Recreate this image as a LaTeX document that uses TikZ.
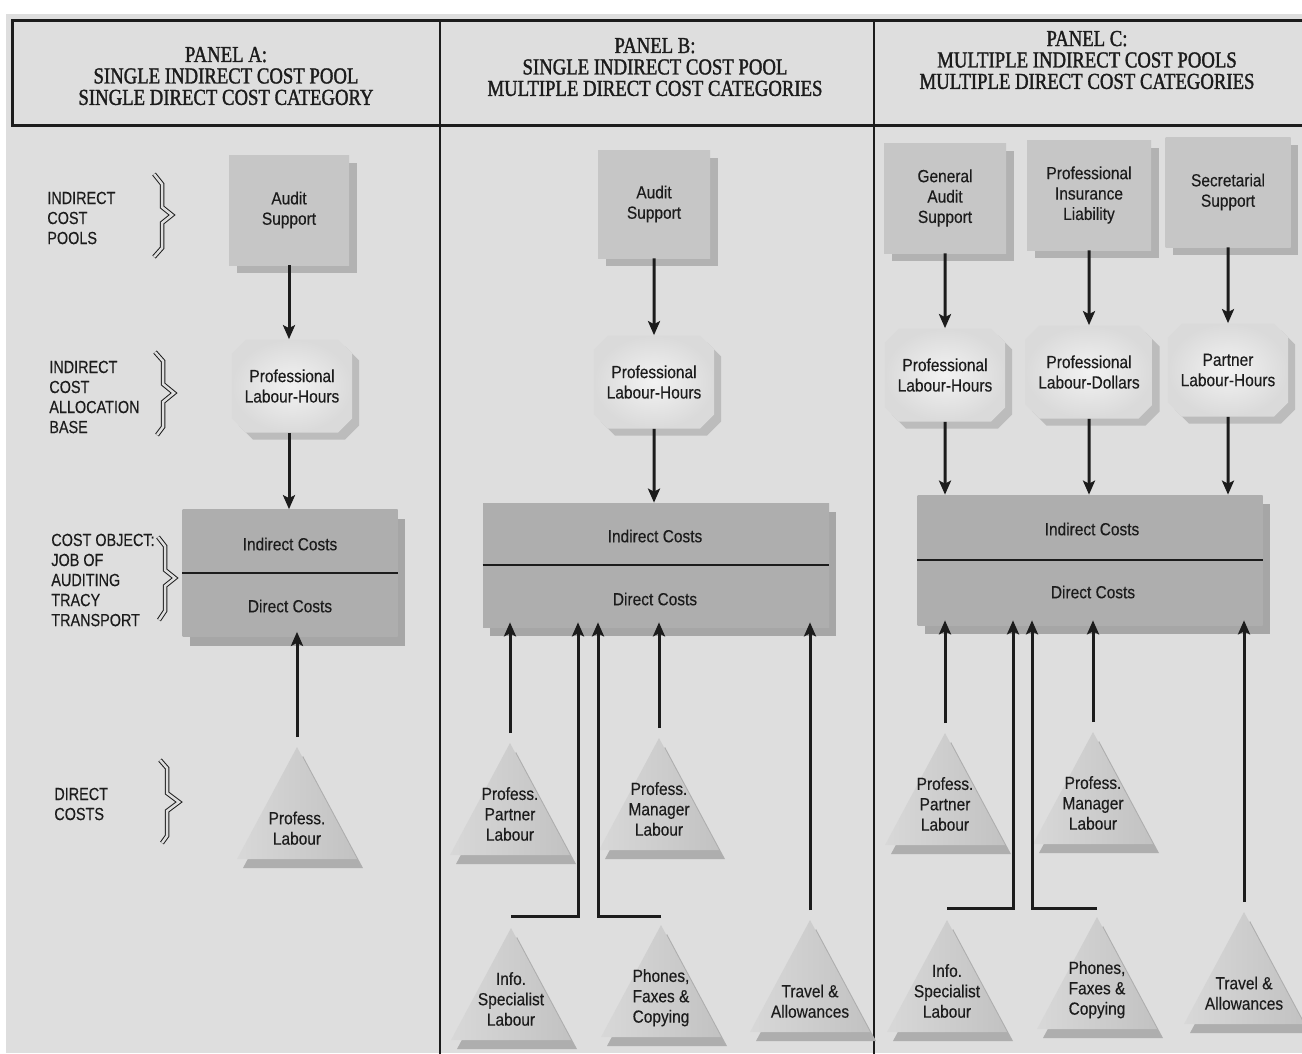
\documentclass[tikz,border=0pt]{standalone}
\usepackage{fontspec}
\usetikzlibrary{arrows.meta,shapes.misc,shadows}
\newfontfamily\hdfont[FakeStretch=0.82,FakeBold=1.4]{Liberation Serif}
\newfontfamily\lbfont[FakeStretch=0.88,FakeBold=0.3]{Liberation Sans}
\newfontfamily\sidefont[FakeStretch=0.82,FakeBold=0.3]{Liberation Sans}
\definecolor{paper}{RGB}{222,222,222}
\definecolor{ink}{RGB}{28,28,28}
\definecolor{poolA}{RGB}{198,198,198}
\definecolor{poolB}{RGB}{216,216,216}
\definecolor{poolsh}{RGB}{178,178,178}
\definecolor{octA}{RGB}{242,242,242}
\definecolor{octB}{RGB}{218,218,218}
\definecolor{octsh}{RGB}{188,188,188}
\definecolor{costA}{RGB}{174,174,174}
\definecolor{costB}{RGB}{206,206,206}
\definecolor{costsh}{RGB}{166,166,166}
\definecolor{coneA}{RGB}{216,216,216}
\definecolor{coneB}{RGB}{194,194,194}
\definecolor{conesh}{RGB}{174,174,174}

\begin{document}
\begin{tikzpicture}[x=0.2mm, y=-0.2mm,
    head/.style={font=\hdfont\fontsize{13}{12.2}\selectfont, align=center, text=ink},
    side/.style={font=\sidefont\fontsize{10}{11.4}\selectfont, align=left, anchor=west, inner sep=0pt, text=ink},
    txt/.style={font=\lbfont\fontsize{10}{11.6}\selectfont, align=center, text=ink},
    pool/.style={txt, rectangle, minimum width=24mm, minimum height=22mm,
        left color=poolA, middle color=poolB, right color=poolA,
        drop shadow={shadow xshift=1.5mm, shadow yshift=-1.5mm, fill=poolsh, opacity=1}},
    allocbase/.style={txt, chamfered rectangle, chamfered rectangle corners=all,
        chamfered rectangle xsep=1.4mm, chamfered rectangle ysep=1.4mm,
        minimum width=20mm, minimum height=18.6mm, inner color=octA, outer color=octB,
        drop shadow={shadow xshift=1.4mm, shadow yshift=-1.4mm, fill=octsh, opacity=1}},
    costobj/.style={rectangle, minimum height=25.4mm,
        left color=costA, middle color=costB, right color=costA,
        drop shadow={shadow xshift=1.4mm, shadow yshift=-1.8mm, fill=costsh, opacity=1}},
    cone/.style={left color=coneA, right color=coneB},
    conetxt/.style={txt, anchor=south, inner sep=0pt, text depth=0pt},
    arr/.style={draw=ink, line width=0.6mm, line join=miter, -{Stealth[length=2.8mm, width=2.4mm, inset=0.6mm]}},
    up/.style={arr, shorten <=2mm, shorten >=-1mm},
    brace/.style={draw=ink, double=paper, double distance=0.5mm, line width=0.2mm, line join=miter},
    hdframe/.style={draw=ink, line width=0.6mm},
    paneline/.style={draw=ink, line width=0.4mm}
]
\useasboundingbox (0,0) rectangle (1302,1053);
\fill[white] (0,0) rectangle (1302,1053);
\fill[paper] (6,14) rectangle (1302,1053);

% headings
\draw[hdframe] (1310,20) -- (12,20) -- (12,125) -- (1310,125);
\draw[paneline] (440,20) -- (440,1060);
\draw[paneline] (874,20) -- (874,1060);
\node[head] (hA) at (226,76) {PANEL A:\\SINGLE INDIRECT COST POOL\\SINGLE DIRECT COST CATEGORY};
\node[head] (hB) at (655,67) {PANEL B:\\SINGLE INDIRECT COST POOL\\MULTIPLE DIRECT COST CATEGORIES};
\node[head] (hC) at (1087,60) {PANEL C:\\MULTIPLE INDIRECT COST POOLS\\MULTIPLE DIRECT COST CATEGORIES};

% row labels
\node[side] (lpool) at (47,218) {INDIRECT\\COST\\POOLS};
\node[side] (lbase) at (49,397) {INDIRECT\\COST\\ALLOCATION\\BASE};
\node[side] (lobj) at (51,580) {COST OBJECT:\\JOB OF\\AUDITING\\TRACY\\TRANSPORT};
\node[side] (ldir) at (54,804) {DIRECT\\COSTS};
\draw[brace] (154,174) -- (162,184) -- (162,207) -- (172,215) -- (162,223) -- (162,248) -- (154,257);
\draw[brace] (155,352) -- (163,361) -- (163,384) -- (174,393) -- (163,402) -- (163,427) -- (157,435);
\draw[brace] (158,537) -- (165,546) -- (165,570) -- (175,578) -- (165,586) -- (165,611) -- (159,620);
\draw[brace] (160,760) -- (167,768) -- (167,793) -- (179,802) -- (167,811) -- (167,836) -- (162,843);

% direct cost cones
\foreach \nm/\x/\y/\txt in {plA/297/747/{Profess.\\Labour},
    ppB/510/743/{Profess.\\Partner\\Labour}, pmB/659/738/{Profess.\\Manager\\Labour},
    iB/511/928/{Info.\\Specialist\\Labour}, fB/661/925/{Phones,\\Faxes \&\\Copying},
    tB/810/920/{Travel \&\\Allowances},
    ppC/945/733/{Profess.\\Partner\\Labour}, pmC/1093/732/{Profess.\\Manager\\Labour},
    iC/947/920/{Info.\\Specialist\\Labour}, fC/1097/917/{Phones,\\Faxes \&\\Copying},
    tC/1244/912/{Travel \&\\Allowances}}{
  \fill[conesh] (\x+6,\y+9) -- (\x+66,\y+121) -- (\x-54,\y+121) -- cycle;
  \shade[cone] (\x,\y) -- (\x+60,\y+112) -- (\x-60,\y+112) -- cycle;
  \coordinate (\nm-top) at (\x,\y);
  \node[conetxt] (\nm) at (\x,\y+98) {\txt};
}

% Panel A
\node[pool] (poolA) at (289,210) {Audit\\Support};
\node[allocbase] (baseA) at (292,386) {Professional\\Labour-Hours};
\node[costobj, minimum width=43mm] (objA) at (290,573) {};
\draw[line width=0.4mm, ink] (objA.west) -- (objA.east);
\node[txt] (objAi) at (290,544) {Indirect Costs};
\node[txt] (objAd) at (290,606) {Direct Costs};
\draw[arr] (poolA) -- (poolA |- baseA.north);
\draw[arr] (poolA |- baseA.south) -- (poolA |- objA.north);
\draw[up] (plA-top) -- (plA-top |- objA.south);

% Panel B
\node[pool, minimum width=22.4mm, minimum height=21.6mm] (poolB) at (654,204) {Audit\\Support};
\node[allocbase] (baseB) at (654,382) {Professional\\Labour-Hours};
\node[costobj, minimum width=69.2mm, minimum height=24.8mm] (objB) at (656,565) {};
\draw[line width=0.4mm, ink] (objB.west) -- (objB.east);
\node[txt] (objBi) at (655,536) {Indirect Costs};
\node[txt] (objBd) at (655,599) {Direct Costs};
\draw[arr] (poolB) -- (baseB);
\draw[arr] (baseB) -- (baseB |- objB.north);
\draw[up] (ppB-top) -- (ppB-top |- objB.south);
\draw[up] (pmB-top) -- (pmB-top |- objB.south);
\draw[up] (tB-top) -- (tB-top |- objB.south);
\coordinate (iB-bend) at (578,916);
\coordinate (fB-bend) at (598,916);
\draw[arr, shorten >=-1mm] (iB-top |- iB-bend) -- (iB-bend) -- (iB-bend |- objB.south);
\draw[arr, shorten >=-1mm] (fB-top |- fB-bend) -- (fB-bend) -- (fB-bend |- objB.south);

% Panel C
\node[pool, minimum width=24.4mm] (poolC1) at (945,198) {General\\Audit\\Support};
\node[pool, minimum width=24.8mm] (poolC2) at (1089,195) {Professional\\Insurance\\Liability};
\node[pool, minimum width=25mm] (poolC3) at (1228,192) {Secretarial\\Support};
\node[allocbase] (baseC1) at (945,375) {Professional\\Labour-Hours};
\node[allocbase] (baseC2) at (1089,372) {Professional\\Labour-Dollars};
\node[allocbase] (baseC3) at (1228,370) {Partner\\Labour-Hours};
\node[costobj, minimum width=69mm, minimum height=26mm] (objC) at (1090,560) {};
\draw[line width=0.4mm, ink] (objC.west) -- (objC.east);
\node[txt] (objCi) at (1092,529) {Indirect Costs};
\node[txt] (objCd) at (1093,592) {Direct Costs};
\foreach \i in {1,2,3}{
  \draw[arr] (poolC\i) -- (baseC\i);
  \draw[arr] (baseC\i) -- (baseC\i |- objC.north);
}
\draw[up] (ppC-top) -- (ppC-top |- objC.south);
\draw[up] (pmC-top) -- (pmC-top |- objC.south);
\draw[up] (tC-top) -- (tC-top |- objC.south);
\coordinate (iC-bend) at (1013,908);
\coordinate (fC-bend) at (1032,908);
\draw[arr, shorten >=-1mm] (iC-top |- iC-bend) -- (iC-bend) -- (iC-bend |- objC.south);
\draw[arr, shorten >=-1mm] (fC-top |- fC-bend) -- (fC-bend) -- (fC-bend |- objC.south);

\end{tikzpicture}
\end{document}
